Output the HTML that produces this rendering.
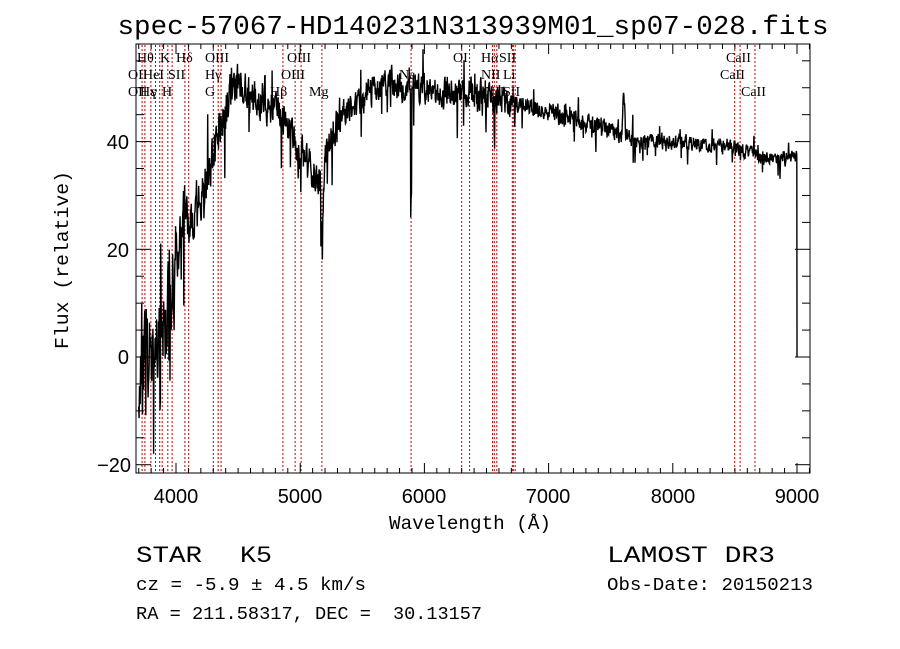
<!DOCTYPE html>
<html><head><meta charset="utf-8"><style>html,body{margin:0;padding:0;background:#fff}svg{display:block}</style></head>
<body>
<svg id="s" width="900" height="649" xmlns="http://www.w3.org/2000/svg" font-family="Liberation Mono, monospace">
<rect width="900" height="649" fill="#fff"/>
<g id="lines"></g>
<g id="ticks" stroke="#000" stroke-width="1"></g>
<path id="spec" fill="none" stroke="#000" stroke-width="1.4"/>
<rect x="136" y="44" width="674" height="429" fill="none" stroke="#000" stroke-width="1"/>
<text x="473" y="34" font-size="27" text-anchor="middle" textLength="711" lengthAdjust="spacingAndGlyphs">spec-57067-HD140231N313939M01_sp07-028.fits</text>
<g font-family="Liberation Sans, sans-serif" font-size="20" text-anchor="middle">
<text x="176" y="503">4000</text><text x="300" y="503">5000</text><text x="424" y="503">6000</text><text x="548" y="503">7000</text><text x="673" y="503">8000</text><text x="797" y="503">9000</text>
</g>
<g font-family="Liberation Sans, sans-serif" font-size="20" text-anchor="end">
<text x="129" y="149">40</text><text x="129" y="257">20</text><text x="129" y="364">0</text><text x="131" y="472">−20</text>
</g>
<text x="470" y="529" font-size="19" text-anchor="middle" textLength="162" lengthAdjust="spacingAndGlyphs">Wavelength (Å)</text>
<text transform="translate(68,260) rotate(-90)" font-size="19" text-anchor="middle" textLength="178" lengthAdjust="spacingAndGlyphs">Flux (relative)</text>
<text x="136" y="562" font-size="23" textLength="66" lengthAdjust="spacingAndGlyphs">STAR</text>
<text x="240" y="562" font-size="23" textLength="32" lengthAdjust="spacingAndGlyphs">K5</text>
<text x="136" y="590" font-size="18" textLength="230" lengthAdjust="spacingAndGlyphs">cz = -5.9 ± 4.5 km/s</text>
<text x="136" y="619" font-size="18" textLength="235" lengthAdjust="spacingAndGlyphs">RA = 211.58317, DEC =</text>
<text x="393" y="619" font-size="18" textLength="89" lengthAdjust="spacingAndGlyphs">30.13157</text>
<text x="607" y="562" font-size="23" textLength="168" lengthAdjust="spacingAndGlyphs">LAMOST DR3</text>
<text x="607" y="590" font-size="18" textLength="206" lengthAdjust="spacingAndGlyphs">Obs-Date: 20150213</text>
<g font-family="Liberation Serif, serif" font-size="14" id="lab"></g>
</svg>
<script>
var X=function(w){return 176+(w-4000)*0.1242;},Y=function(f){return 357-f*5.385;};
var L=[3727,3750,3798,3835,3869,3889,3934,3969,4072,4102,4300,4340,4363,4861,4959,5007,5175,5893,6300,6364,6548,6563,6583,6708,6716,6731,8498,8542,8662];
var h='';
L.forEach(function(w){var x=X(w).toFixed(1);h+='<line x1="'+x+'" y1="45" x2="'+x+'" y2="472" stroke="#c00000" stroke-width="1" stroke-dasharray="2,2"/>';});
document.getElementById('lines').innerHTML=h;
var t='';
for(var w=3700;w<=9100;w+=100){var x=X(w);if(x<136||x>810)continue;var m=(w%1000==0)?10:5;t+='<line x1="'+x+'" y1="473" x2="'+x+'" y2="'+(473-m)+'"/><line x1="'+x+'" y1="44" x2="'+x+'" y2="'+(44+m)+'"/>';}
for(var f=-20;f<=55;f+=5){var y=Y(f);var m=(f%20==0)?15:8;t+='<line x1="136" y1="'+y+'" x2="'+(136+m)+'" y2="'+y+'"/><line x1="810" y1="'+y+'" x2="'+(810-m)+'" y2="'+y+'"/>';}
document.getElementById('ticks').innerHTML=t;
var labs=[[137,62,'Hθ'],[160,62,'K'],[176,62,'Hδ'],[205,62,'OIII'],[287,62,'OIII'],[453,62,'OI'],[481,62,'Hα'],[499,62,'SII'],[726,62,'CaII'],
[128,79,'OII'],[143,79,'HeI'],[168,79,'SII'],[205,79,'Hγ'],[281,79,'OIII'],[399,79,'Na'],[481,79,'NII'],[503,79,'Li'],[720,79,'CaII'],
[128,96,'OII'],[140,96,'Hε'],[151,96,'γ'],[162,96,'H'],[205,96,'G'],[270,96,'Hβ'],[309,96,'Mg'],[485,96,'NII'],[503,96,'SII'],[741,96,'CaII']];
document.getElementById('lab').innerHTML=labs.map(function(a){return '<text x="'+a[0]+'" y="'+a[1]+'">'+a[2]+'</text>';}).join('');
var seed=11;function r(){seed=(seed*16807)%2147483647;return seed/2147483647;}
var K=[[3700,-2],[3800,0],[3900,6],[3950,10],[4000,17],[4050,24],[4150,27],[4250,33],[4350,42],[4450,50],[4600,49],[4800,46],[4900,43],[5000,38],[5100,35],[5150,32],[5250,41],[5350,45],[5500,48],[5700,51],[5900,50],[6100,49],[6400,49],[6600,48],[6750,47],[7000,45.5],[7200,44],[7500,42],[7700,40],[8000,40],[8500,39],[8700,37],[9000,37]];
function base(w){for(var i=0;i<K.length-1;i++){if(w<=K[i+1][0]){var a=K[i],b=K[i+1];return a[1]+(b[1]-a[1])*(w-a[0])/(b[0]-a[0]);}}return 37;}
var d='',first=true,prev=0;
for(var w=3700;w<=9000;w+=3){var f=base(w);var amp=w<4000?12:w<4500?7:w<5300?5:w<6700?4:w<7700?2.5:2;
var n=(r()-0.5)*2*amp;prev=0.4*prev+0.6*n;f+=prev;
if(r()<0.03)f-=amp*1.5;if(r()<0.02)f+=amp*1.2;
if(Math.abs(w-5178)<15)f-=14*(1-Math.abs(w-5178)/15);
if(Math.abs(w-5893)<6)f-=22;
if(Math.abs(w-7605)<15)f+=10*(1-Math.abs(w-7605)/15);
if(Math.abs(w-4227)<5)f-=8;if(Math.abs(w-6563)<4)f-=8;
if(f<-18)f=-18;
d+=(first?'M':'L')+X(w).toFixed(1)+' '+Y(f).toFixed(1);first=false;}
d+='L'+X(9000)+' '+Y(5)+'L'+X(9000)+' '+Y(0);
document.getElementById('spec').setAttribute('d',d);
</script>
</body></html>
